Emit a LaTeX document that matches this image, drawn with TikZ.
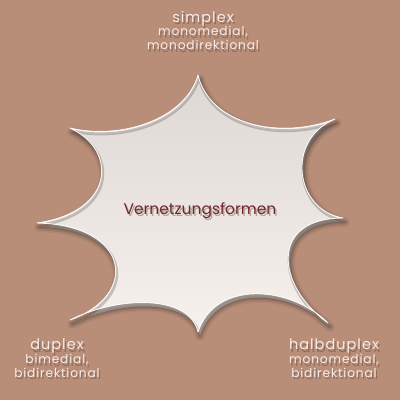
\documentclass[tikz,border=0pt]{standalone}
\usepackage{fontspec}
\setmainfont{Poppins}
\newfontfamily\sidefont{Poppins}[LetterSpace=7]
\definecolor{bgbrown}{RGB}{184,142,121}
\definecolor{burst}{RGB}{246,238,234}
\definecolor{shade}{RGB}{105,65,50}
\definecolor{lite}{RGB}{246,237,233}
\definecolor{ink}{RGB}{110,40,52}
\usetikzlibrary{positioning}

% outline of the burst, in pixel units
\newcommand{\burstpath}{(198,75) .. controls (210,125) and (280,140) .. (335,119)
  .. controls (285,140) and (295,210) .. (343,218)
  .. controls (270,218) and (275,285) .. (328,323)
  .. controls (290,285) and (215,280) .. (198,332)
  .. controls (190,295) and (120,295) .. (70,320)
  .. controls (140,295) and (130,225) .. (37,223)
  .. controls (115,212) and (118,150) .. (70,128)
  .. controls (120,140) and (185,120) .. (198,75) -- cycle}
\newcommand{\headsize}{\fontsize{14.5}{14}\selectfont}

\begin{document}
\begin{tikzpicture}[x=1pt,y=-1pt,
    side/.style={align=center,inner sep=0pt,anchor=north,color=lite,
      font=\sidefont\fontsize{12.2}{13.7}\selectfont},
    sideshadow/.style={side,color=shade,opacity=0.45}]
	\fill[bgbrown] (0,0) rectangle (400,400);
	\useasboundingbox (0,0) rectangle (400,400);
	
	% soft shadow under the burst
	\foreach \w/\o in {10/0.05,7/0.07,4/0.09,1.5/0.12}
		\draw[shade,line width=\w pt,opacity=\o,line join=round,shift={(2,4)}] \burstpath;
	\fill[shade,opacity=0.3,shift={(2,4)}] \burstpath;
	
	\fill[burst] \burstpath;
	\begin{scope}
		\clip \burstpath;
		\draw[shade,opacity=0.2,line width=3pt,shift={(1,2.5)}] \burstpath;
	\end{scope}
	\draw[white,line width=0.9pt,opacity=0.9,line join=round] \burstpath;
	
	\node[color=shade,opacity=0.4,anchor=base,font=\fontsize{15.5}{15.5}\selectfont] (vf-sh) at (201.5,216) {Vernetzungsformen};
	\node[color=ink,anchor=base,font=\fontsize{15.5}{15.5}\selectfont] (vf) at (200,214) {Vernetzungsformen};
	
	\node[sideshadow] (simplex-sh) at (204.5,13.5) {{\headsize simplex}\\monomedial,\\monodirektional};
	\node[side] (simplex) at (203,11) {{\headsize simplex}\\monomedial,\\monodirektional};
	
	\node[sideshadow] (duplex-sh) at (58.5,341.5) {{\headsize duplex}\\bimedial,\\bidirektional};
	\node[side] (duplex) at (57,339) {{\headsize duplex}\\bimedial,\\bidirektional};
	
	\node[sideshadow] (halb-sh) at (335.5,341.5) {{\headsize halbduplex}\\monomedial,\\bidirektional};
	\node[side] (halb) at (334,339) {{\headsize halbduplex}\\monomedial,\\bidirektional};
\end{tikzpicture}
\end{document}
